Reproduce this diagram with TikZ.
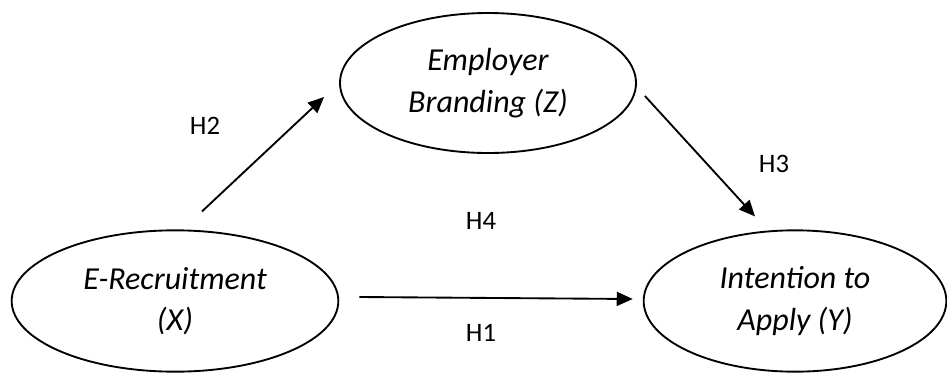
\documentclass[tikz,border=0pt]{standalone}
\usepackage{fontspec}
\setmainfont{Carlito}
\usepackage{tikz}
\usetikzlibrary{shapes, arrows.meta, positioning, calc}
\usepackage{xcolor}

\begin{document}
\begin{tikzpicture}[x=0.75pt, y=-0.75pt,
        vbox/.style={ellipse, draw=black, line width=1.4pt, inner sep=0pt, align=center, font=\fontsize{24}{31}\selectfont\itshape},
        hlab/.style={inner sep=0pt, font=\fontsize{20}{24}\selectfont},
        link/.style={draw=black, line width=1.4pt, -{Triangle[length=12pt, width=10.5pt]}}
    ]
        \useasboundingbox (0, 0) rectangle (947, 372);

        % Variables del modelo
        \node [vbox, minimum width=245pt, minimum height=106pt] (erec) at (175, 301) {E-Recruitment\\(X)};
        \node [vbox, minimum width=222pt, minimum height=105pt] (brand) at (488, 83) {Employer\\Branding (Z)};
        \node [vbox, minimum width=227pt, minimum height=106pt] (intent) at (795, 301) {Intention to\\Apply (Y)};

        % Hipotesis
        \node [hlab] (h2) at (205, 126) {H2};
        \node [hlab] (h3) at (774, 164) {H3};
        \node [hlab] (h4) at (481, 221) {H4};
        \node [hlab] (h1) at (481, 333) {H1};

        % Relaciones entre variables
        \draw [link] ([shift={(27, -18)}]erec.north) -- ([shift={(-15, 14)}]brand.west);
        \draw [link] ([shift={(8, 13)}]brand.east) -- ([shift={(-40, -13)}]intent.north);
        \draw [link] ([shift={(20, -4)}]erec.east) -- ([shift={(-10, -2)}]intent.west);
    \end{tikzpicture}
\end{document}
